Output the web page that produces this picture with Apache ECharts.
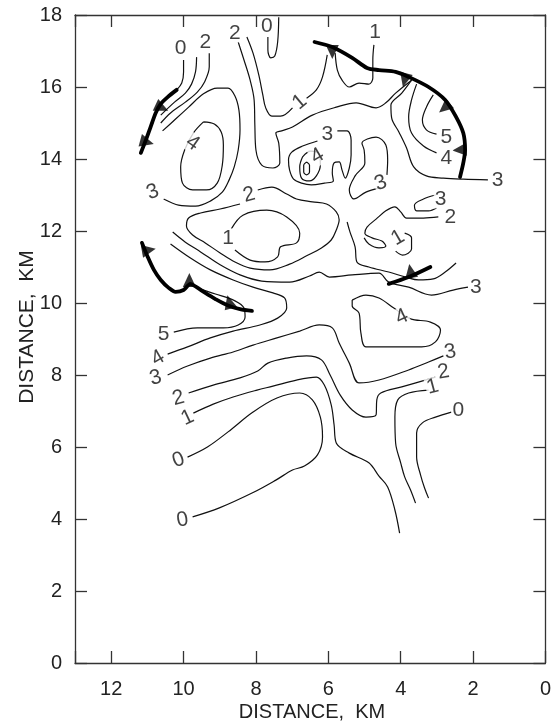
<!DOCTYPE html>
<html><head><meta charset="utf-8">
<script src="https://cdn.jsdelivr.net/npm/echarts@6/dist/echarts.min.js"></script>
<style>html,body{margin:0;padding:0;background:#fff}#c{width:554px;height:726px}</style>
</head><body><div id="c"></div>
<script>
// ---- axis ticks (km) ----
const xTicks = [0, 2, 4, 6, 8, 10, 12];
const yTicks = [0, 2, 4, 6, 8, 10, 12, 14, 16, 18];

// ---- contour polylines [distance km (x), distance km (y)] ----
const c0TopLeft = [[10.00,16.75],[10.00,16.42],[10.05,16.11],[10.19,15.92]];
const c1TopLeft = [[9.64,16.83],[9.67,16.42],[9.78,16.08],[9.95,15.83],[10.25,15.58],[10.63,15.22]];
const c2TopLeft = [[9.29,16.94],[9.29,16.56],[9.42,16.14],[9.62,15.86],[9.95,15.58],[10.36,15.28],[10.63,15.00]];
const c3Loop = [[10.58,14.78],[10.22,15.11],[9.86,15.44],[9.45,15.81],[9.07,15.97],[8.77,15.97],[8.58,15.75],[8.47,15.36],[8.44,14.81],[8.49,14.25],[8.60,13.78],[8.74,13.42],[8.93,13.08],[9.26,12.83],[9.67,12.69],[10.14,12.72],[10.55,12.89]];
const c4Loop = [[9.45,15.03],[9.15,14.97],[8.96,14.75],[8.90,14.39],[8.93,13.83],[9.07,13.33],[9.37,13.14],[9.75,13.14],[10.03,13.33],[10.08,13.78],[9.97,14.25],[9.73,14.72],[9.45,15.03]];
const c2Upper = [[8.49,17.25],[8.33,16.75],[8.16,16.19],[8.05,15.64],[8.03,14.94],[8.00,14.25],[7.84,13.83],[7.53,13.75],[7.34,13.89],[7.37,14.44],[7.45,14.72],[7.29,14.78],[6.99,14.89],[6.44,15.22],[5.78,15.44],[5.23,15.56],[4.68,15.42],[4.41,15.56],[4.14,15.83],[3.70,16.19]];
const c1UpperA = [[8.25,17.39],[8.08,16.94],[7.92,16.33],[7.81,15.78],[7.73,15.42],[7.56,15.19],[7.32,15.19],[6.99,15.42]];
const c1UpperB = [[6.60,15.69],[6.33,15.92],[6.16,16.28],[6.03,16.89]];
const c0Top = [[7.67,17.39],[7.67,17.03],[7.59,16.81],[7.48,16.86],[7.40,17.25],[7.37,17.94]];
const c1TopRight = [[5.81,16.94],[5.75,16.47],[5.62,16.19],[5.42,16.00],[5.15,16.11],[4.88,16.08],[4.77,16.25],[4.77,16.75],[4.74,17.17]];
const c3Right = [[3.70,16.19],[3.97,15.83],[4.27,15.50],[4.25,15.14],[4.05,14.75],[3.84,14.31],[3.64,13.78],[3.29,13.53],[2.82,13.47],[2.27,13.44],[1.59,13.42]];
const c4Right = [[3.56,16.08],[3.70,15.64],[3.78,15.17],[3.70,14.72],[3.37,14.36],[3.01,14.17]];
const c5Right = [[3.10,15.78],[3.29,15.44],[3.40,15.08],[3.29,14.81],[3.01,14.69]];
const c3AroundCell = [[5.75,14.78],[5.48,14.78],[5.37,14.53],[5.37,14.11],[5.42,13.75],[5.53,13.47],[5.62,13.69],[5.70,13.92],[5.84,13.89],[5.89,13.61],[5.86,13.39],[6.11,13.33],[6.47,13.28],[6.74,13.33],[6.96,13.44],[7.07,13.69],[7.10,13.97],[7.01,14.19],[6.71,14.36],[6.30,14.50]];
const c4Cell = [[6.71,14.06],[6.79,13.78],[6.74,13.47],[6.52,13.39],[6.33,13.53],[6.22,13.83],[6.25,14.14],[6.49,14.22],[6.71,14.06]];
const c5Cell = [[6.60,13.92],[6.52,13.83],[6.52,13.64],[6.60,13.56],[6.68,13.64],[6.68,13.83],[6.60,13.92]];
const c3Cell2 = [[4.60,13.19],[4.96,13.08],[5.29,12.89],[5.42,13.14],[5.26,13.53],[4.99,13.89],[5.01,14.25],[5.07,14.44],[4.68,14.61],[4.41,14.39],[4.36,13.97],[4.38,13.56]];
const c2Loop = [[7.95,13.14],[7.56,13.22],[7.15,13.03],[6.88,12.89],[6.44,12.81],[6.05,12.75],[5.78,12.53],[5.70,12.31],[5.78,12.03],[5.92,11.75],[6.19,11.53],[6.60,11.31],[7.07,11.08],[7.62,10.92],[8.16,10.97],[8.58,11.14],[8.99,11.39],[9.40,11.67],[9.75,11.89],[9.92,12.14],[9.86,12.36],[9.53,12.50],[8.99,12.61],[8.44,12.75]];
const c1Cell = [[8.68,12.06],[8.36,12.44],[7.70,12.58],[7.15,12.39],[6.79,11.94],[6.88,11.67],[7.32,11.56],[7.40,11.28],[7.75,11.14],[8.16,11.19],[8.58,11.47]];
const c3Long = [[10.30,11.97],[9.95,11.69],[9.53,11.42],[8.99,11.06],[8.44,10.78],[7.84,10.61],[7.07,10.58],[6.52,10.75],[6.25,10.86],[5.97,10.72],[5.34,10.78],[4.60,10.83],[4.33,10.58],[3.78,10.44],[3.15,10.22],[2.55,10.36],[2.14,10.44]];
const c3Mid = [[5.48,12.25],[5.40,11.97],[5.26,11.56],[5.21,11.14],[4.88,11.00],[4.33,10.86],[3.86,10.72],[3.51,10.64],[3.10,10.67],[2.77,10.86],[2.47,11.11]];
const c2Right = [[2.96,12.39],[3.37,12.36],[3.84,12.36],[4.00,12.53],[4.16,12.67],[4.41,12.56],[4.68,12.33],[4.93,12.11],[4.99,11.94],[4.79,11.81],[4.52,11.72],[4.41,11.58],[4.60,11.53],[4.88,11.64],[5.01,11.81]];
const c3Small = [[3.04,13.00],[3.37,12.89],[3.62,12.72],[3.56,12.56],[3.23,12.56],[3.01,12.64]];
const c1Small = [[3.89,11.94],[3.70,11.81],[3.70,11.50],[3.95,11.33],[4.14,11.44]];
const c5Left = [[10.27,9.19],[9.62,9.31],[8.90,9.31],[8.49,9.39],[8.30,9.61],[8.33,9.86],[8.58,10.06],[9.12,10.25],[9.64,10.42]];
const c4Tongue = [[10.44,8.58],[9.89,8.78],[9.26,9.03],[8.63,9.22],[7.89,9.39],[7.40,9.58],[7.15,9.86],[7.21,10.14],[7.53,10.28],[8.08,10.44],[8.63,10.64],[9.26,10.92],[9.81,11.25],[10.36,11.64]];
const c3Lower = [[10.44,8.00],[9.89,8.25],[9.26,8.47],[8.63,8.64],[8.08,8.83],[7.42,9.03],[6.79,9.22],[6.25,9.39],[5.89,9.31],[5.70,8.89],[5.42,8.33],[5.15,7.78],[4.60,7.86],[3.78,8.14],[3.23,8.36],[2.82,8.53]];
const c4CellLow = [[5.34,10.08],[4.96,10.22],[4.60,10.14],[4.19,9.86],[3.73,9.56],[3.18,9.47],[2.90,9.25],[3.04,8.92],[3.42,8.78],[4.14,8.78],[4.96,8.78],[5.10,9.17],[5.15,9.72],[5.34,9.92],[5.34,10.08]];
const c2Lower = [[9.86,7.50],[9.18,7.72],[8.44,7.92],[7.95,8.11],[7.67,8.33],[7.15,8.47],[6.60,8.53],[6.19,8.42],[5.95,8.00],[5.67,7.44],[5.34,7.03],[4.96,6.83],[4.68,6.89],[4.66,7.31],[4.55,7.50],[3.97,7.67],[3.04,7.94]];
const c1Left = [[9.73,6.94],[9.18,7.19],[8.63,7.39],[7.97,7.58],[7.53,7.69],[6.88,7.86],[6.33,7.94],[6.11,7.72],[5.92,7.17],[5.84,6.61],[5.78,6.11],[5.42,5.83],[4.88,5.56],[4.60,5.19],[4.36,4.89],[4.16,4.25],[4.03,3.61]];
const c1Right = [[3.23,7.58],[3.78,7.50],[4.08,7.31],[4.16,6.83],[4.14,6.11],[4.00,5.56],[3.89,5.17],[3.73,4.81],[3.59,4.44]];
const c0Right = [[2.60,6.97],[3.04,6.83],[3.40,6.67],[3.56,6.39],[3.56,5.72],[3.45,5.22],[3.34,4.86],[3.23,4.58]];
const c0Left = [[9.89,5.72],[9.34,6.00],[8.77,6.42],[8.08,6.97],[7.42,7.36],[6.79,7.50],[6.44,7.31],[6.22,6.83],[6.16,6.28],[6.30,5.78],[6.66,5.47],[6.99,5.36],[7.45,5.08],[8.05,4.75],[9.01,4.31],[9.75,4.06]];

// ---- gust fronts (thick lines) ----
const frontNW = [[11.18,14.17],[11.04,14.53],[10.90,14.92],[10.77,15.28],[10.63,15.53],[10.44,15.72],[10.19,15.92]];
const frontW = [[11.15,11.67],[10.99,11.28],[10.82,10.92],[10.63,10.64],[10.41,10.42],[10.22,10.31],[10.00,10.36],[9.81,10.53],[9.64,10.44],[9.40,10.28],[9.12,10.11],[8.79,9.94],[8.44,9.83],[8.11,9.78]];
const frontNE = [[6.38,17.25],[5.89,17.11],[5.34,16.81],[4.93,16.53],[4.60,16.47],[4.14,16.42],[3.78,16.28],[3.23,16.00],[2.77,15.64],[2.47,15.17],[2.27,14.72],[2.22,14.25],[2.27,13.89],[2.36,13.50]];
const frontE = [[4.33,10.53],[3.78,10.72],[3.18,11.00]];
// front barbs: [x, y, rotation deg]
const frontBarbs = [[10.60,15.42,-115],[11.01,14.47,-105],[10.96,11.47,-80],[9.84,10.64,0],[8.74,10.03,15],
  [5.89,16.97,180],[3.89,16.19,165],[2.79,15.42,130],[2.38,14.25,95],[3.73,10.89,10]];

// ---- contour labels: [x, y, text, rotation] ----
const contourLabels = [
  [10.08,17.08,'0',0],[9.40,17.25,'2',0],[8.58,17.50,'2',0],[7.70,17.69,'0',0],[4.71,17.53,'1',0],
  [6.79,15.58,'1',40],[9.75,14.44,'4',-35],[10.85,13.08,'3',20],[6.03,14.69,'3',0],[6.30,14.08,'4',30],
  [4.55,13.33,'3',20],[2.74,14.61,'5',0],[2.74,14.03,'4',0],[1.32,13.42,'3',0],[2.90,12.89,'3',0],
  [2.63,12.39,'2',0],[8.19,13.00,'2',15],[8.77,11.81,'1',0],[4.08,11.81,'1',30],[1.92,10.44,'3',0],
  [10.55,9.14,'5',0],[10.71,8.47,'4',30],[10.77,7.92,'3',15],[10.14,7.36,'2',15],[9.89,6.81,'1',25],
  [10.14,5.64,'0',20],[10.03,3.97,'0',10],[3.97,9.61,'4',25],[2.63,8.64,'3',10],[2.82,8.08,'2',10],
  [3.12,7.67,'1',15],[2.41,7.03,'0',0]
];

const contours = [c0TopLeft,c1TopLeft,c2TopLeft,c3Loop,c4Loop,c2Upper,c1UpperA,c1UpperB,c0Top,c1TopRight,
  c3Right,c4Right,c5Right,c3AroundCell,c4Cell,c5Cell,c3Cell2,c2Loop,c1Cell,c3Long,c3Mid,c2Right,c3Small,c1Small,
  c5Left,c4Tongue,c3Lower,c4CellLow,c2Lower,c1Left,c1Right,c0Right,c0Left];
const fronts = [frontNW, frontW, frontNE, frontE];

const FONT = '"Liberation Sans", Arial, sans-serif';
const chart = echarts.init(document.getElementById('c'), null, {renderer:'canvas'});

const series = [];
contours.forEach(d => series.push({type:'line', data:d, showSymbol:false, smooth:0.35, silent:true, z:2,
  lineStyle:{color:'#111', width:1.2}}));
fronts.forEach(d => series.push({type:'line', data:d, showSymbol:false, smooth:0.3, silent:true, z:4,
  lineStyle:{color:'#000', width:3.8, cap:'round', join:'round'}}));
series.push({type:'scatter', silent:true, z:4, symbol:'triangle', symbolSize:[13,14],
  itemStyle:{color:'#000'},
  data: frontBarbs.map(b => ({value:[b[0],b[1]], symbolRotate:b[2]}))});
series.push({type:'scatter', silent:true, z:6, symbolSize:1, itemStyle:{color:'rgba(0,0,0,0)'},
  data: contourLabels.map(l => ({value:[l[0],l[1]], name:l[2], label:{rotate:l[3]}})),
  label:{show:true, position:'inside', formatter:'{b}', fontSize:21, fontFamily:FONT, color:'#111',
    backgroundColor:'#fff', padding:[0,1,0,1], lineHeight:19}});

const axisCommon = {
  type:'value', splitLine:{show:false},
  axisLine:{show:true, onZero:false, lineStyle:{color:'#333', width:1.3}},
  axisTick:{show:true, inside:true, length:12, lineStyle:{color:'#333', width:1.3}}
};

chart.setOption({
  animation:false,
  grid:{left:75, right:6, top:15, bottom:63, show:false},
  xAxis:[
    Object.assign({}, axisCommon, {min:0, max:13, interval:2, inverse:true, position:'bottom',
      axisLabel:{show:true, margin:16, fontSize:20, fontFamily:FONT, color:'#222',
        formatter: v => xTicks.includes(v) ? String(v) : ''}}),
    Object.assign({}, axisCommon, {min:0, max:13, interval:2, inverse:true, position:'top',
      axisLabel:{show:false}})
  ],
  yAxis:[
    Object.assign({}, axisCommon, {min:0, max:18, interval:2, position:'left',
      axisLabel:{show:true, margin:13, fontSize:20, fontFamily:FONT, color:'#222',
        formatter: v => yTicks.includes(v) ? String(v) : ''}}),
    Object.assign({}, axisCommon, {min:0, max:18, interval:2, position:'right',
      axisLabel:{show:false}})
  ],
  graphic:[
    {type:'text', x:312, y:712, style:{text:'DISTANCE,  KM', font:'20px '+FONT, fill:'#222', align:'center', verticalAlign:'middle'}},
    {type:'text', x:27, y:327, rotation:Math.PI/2, style:{text:'DISTANCE,  KM', font:'21px '+FONT, fill:'#222', align:'center', verticalAlign:'middle'}}
  ],
  series: series
});
</script>
</body></html>
